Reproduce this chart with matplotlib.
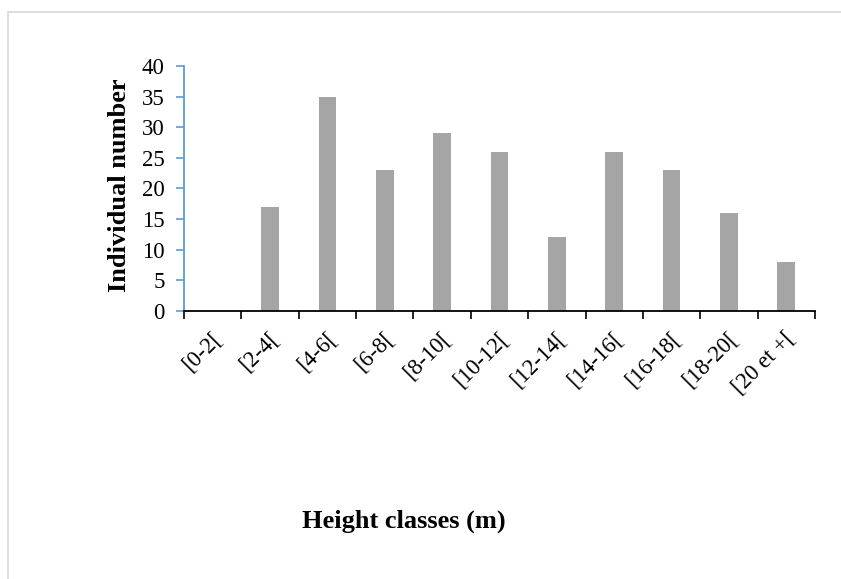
import matplotlib
matplotlib.use("Agg")
import matplotlib.pyplot as plt
from matplotlib.patches import Rectangle
from matplotlib.transforms import ScaledTranslation
import numpy as np

classes = ["[0-2[", "[2-4[", "[4-6[", "[6-8[", "[8-10[", "[10-12[", "[12-14[",
           "[14-16[", "[16-18[", "[18-20[", "[20 et +["]
counts = [0, 17, 35, 23, 29, 26, 12, 26, 23, 16, 8]
yticks = [0, 5, 10, 15, 20, 25, 30, 35, 40]

plt.rcParams['font.family'] = ['Liberation Serif', 'DejaVu Serif']

fig = plt.figure(figsize=(8.41, 5.79), dpi=100)
# light frame around the chart area
fig.patches.append(Rectangle((8 / 841, -0.1), 1.1, 1 - 12 / 579 + 0.1,
                             transform=fig.transFigure, fill=False,
                             edgecolor='#D9D9D9', linewidth=1.2, zorder=0))

ax = fig.add_axes([184 / 841, 1 - 311 / 579, 631 / 841, 245 / 579])
x = np.arange(len(classes))
ax.bar(x, counts, width=0.31, color='#A5A5A5', zorder=2)

ax.set_xlim(-0.5, len(classes) - 0.5)
ax.set_ylim(0, 40)
ax.set_yticks(yticks)
ax.set_yticklabels([str(v) for v in yticks], fontsize=16.5)
ax.set_xticks(x)
ax.set_xticklabels(classes, rotation=45, ha='right', va='top',
                   rotation_mode='anchor', fontsize=16.5)
ax.tick_params(axis='x', length=0, pad=12)
for lab in ax.get_xticklabels():
    lab.set_transform(lab.get_transform() + ScaledTranslation(-0.02, 0, fig.dpi_scale_trans))
# category boundary ticks
ax.set_xticks(np.arange(-0.5, len(classes)), minor=True)
ax.tick_params(axis='x', which='minor', length=6, width=1.2, color='black', direction='out')
ax.tick_params(axis='y', length=6, width=1.2, color='#5B9BD5', pad=8)

for s in ['top', 'right']:
    ax.spines[s].set_visible(False)
ax.spines['left'].set_color('#5B9BD5')
ax.spines['left'].set_linewidth(1.3)
ax.spines['bottom'].set_color('black')
ax.spines['bottom'].set_linewidth(1.3)

fig.text(119 / 841, 1 - 185 / 579, "Individual number", rotation=90,
         ha='center', va='center', fontsize=19, fontweight='bold')
fig.text(404 / 841, 1 - 521 / 579, "Height classes (m)",
         ha='center', va='center', fontsize=19, fontweight='bold')

fig.savefig("out.png", dpi=100)
